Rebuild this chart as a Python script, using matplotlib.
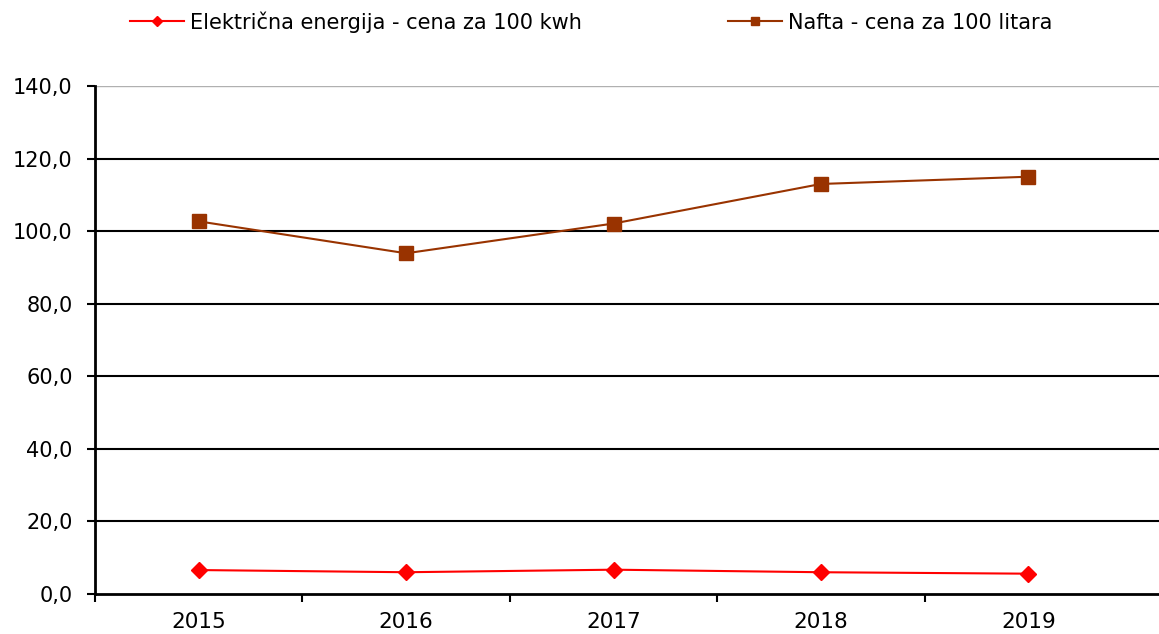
import numpy as np
import matplotlib.pyplot as plt
from matplotlib.ticker import FixedLocator, FuncFormatter

plt.rcParams["font.family"] = ["DejaVu Sans"]

years = ["2015", "2016", "2017", "2018", "2019"]
struja = [6.6, 6.0, 6.7, 6.0, 5.6]
nafta = [102.7, 93.9, 102.1, 113.0, 115.0]
struja_label = "Električna energija - cena za 100 kwh"
nafta_label = "Nafta - cena za 100 litara"

W, H = 1159, 634
fig = plt.figure(figsize=(W / 100, H / 100), dpi=100)
ax = fig.add_axes([95 / W, 1 - 594 / H, 1 - 95 / W, (594 - 86) / H])

x = np.arange(len(years))
ax.plot(x, struja, color="#FF0000", lw=1.5, marker="D", ms=8, label=struja_label, zorder=3)
ax.plot(x, nafta, color="#993300", lw=1.5, marker="s", ms=10, label=nafta_label, zorder=3)

ax.set_xlim(-0.5, 4.63)
ax.set_ylim(0, 140)

# horizontal grid (top one is lighter)
for v in range(20, 140, 20):
    ax.axhline(v, color="black", lw=1.5, zorder=1)
ax.axhline(140, color="#b0b0b0", lw=1.0, zorder=1)

ax.set_yticks(np.arange(0, 141, 20))
ax.yaxis.set_major_formatter(FuncFormatter(lambda v, p: f"{v:.1f}".replace(".", ",")))

# category boundaries as ticks, labels at centers
ax.xaxis.set_major_locator(FixedLocator(np.arange(-0.5, 4.0, 1.0)))
ax.xaxis.set_major_formatter(FuncFormatter(lambda v, p: ""))
ax.xaxis.set_minor_locator(FixedLocator(x))
ax.set_xticklabels(years, minor=True)
ax.tick_params(axis="x", which="minor", length=0, labelsize=15.5, pad=13)
ax.tick_params(axis="x", which="major", length=6, width=1.5, direction="out")
ax.tick_params(axis="y", length=6, width=1.5, direction="out", labelsize=15, pad=10)

for s in ["top", "right"]:
    ax.spines[s].set_visible(False)
ax.spines["left"].set_linewidth(2)
ax.spines["bottom"].set_linewidth(2)

fig.legend(loc="center", bbox_to_anchor=(591 / W, 1 - 22 / H), ncol=2, frameon=False,
           fontsize=15, handlelength=2.6, handletextpad=0.3, columnspacing=7.0,
           markerscale=0.6)

fig.savefig("out.png", dpi=100)
